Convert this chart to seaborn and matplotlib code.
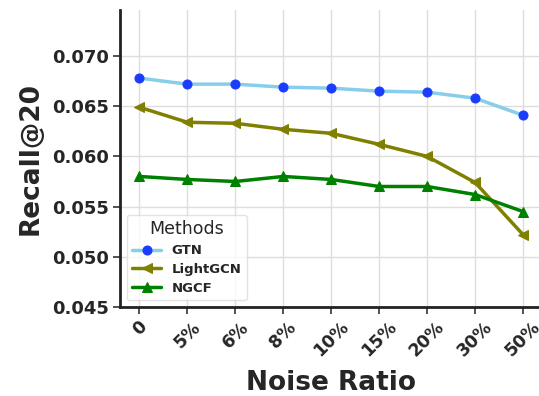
import numpy as np
import pandas as pd
import matplotlib
matplotlib.use("Agg")
import matplotlib.pyplot as plt
import seaborn as sns

noise = ["0", "5%", "6%", "8%", "10%", "15%", "20%", "30%", "50%"]
gtn = [0.0678, 0.0672, 0.0672, 0.0669, 0.0668, 0.0665, 0.0664, 0.0658, 0.0641]
lightgcn = [0.0649, 0.0634, 0.0633, 0.0627, 0.0623, 0.0612, 0.0600, 0.0574, 0.0522]
ngcf = [0.0580, 0.0577, 0.0575, 0.0580, 0.0577, 0.0570, 0.0570, 0.0562, 0.0545]

methods = ["GTN", "LightGCN", "NGCF"]
values = {"GTN": gtn, "LightGCN": lightgcn, "NGCF": ngcf}
styles = {
    "GTN": dict(color="skyblue", marker="o", mfc="#1a3cff", mec="#1a3cff", ms=6.5),
    "LightGCN": dict(color="olive", marker="<", mfc="olive", mec="olive", ms=7),
    "NGCF": dict(color="green", marker="^", mfc="green", mec="green", ms=7),
}

sns.set_theme(style="whitegrid")
plt.rcParams["font.family"] = ["DejaVu Sans"]

fig = plt.figure(figsize=(5.39, 3.96), dpi=100)
ax = fig.add_axes([0.223, 0.225, 0.783, 0.75])

x = np.arange(len(noise))
for m in methods:
    st = styles[m]
    sns.lineplot(x=x, y=values[m], ax=ax, color=st["color"], linewidth=2.5,
                 marker=st["marker"], markersize=st["ms"], markerfacecolor=st["mfc"],
                 markeredgecolor=st["mec"], label=m)

ax.set_xticks(x)
ax.set_xticklabels(noise, rotation=45, fontsize=12.5, fontweight="bold")
ax.set_ylim(0.045, 0.0746)
ax.set_yticks([0.045, 0.050, 0.055, 0.060, 0.065, 0.070])
ax.set_yticklabels([f"{v:.3f}" for v in ax.get_yticks()], fontsize=13, fontweight="bold")
ax.set_xlim(-0.4, 8.4)
ax.set_xlabel("Noise Ratio", fontsize=19, fontweight="bold", labelpad=7)
ax.set_ylabel("Recall@20", fontsize=19, fontweight="bold", labelpad=6)
ax.tick_params(axis="both", length=5, width=1.2, color="#333333", pad=3)
ax.xaxis.set_tick_params(bottom=True)
ax.yaxis.set_tick_params(left=True)
ax.grid(True, color="#dddddd", linewidth=1)

for side in ["top", "right"]:
    ax.spines[side].set_visible(False)
for side in ["left", "bottom"]:
    ax.spines[side].set_color("#222222")
    ax.spines[side].set_linewidth(2)

leg = ax.legend(title="Methods", loc="lower left", title_fontsize=12.5,
                prop={"weight": "bold", "size": 9.5}, frameon=True, borderpad=0.4,
                handlelength=2.2, labelspacing=0.45)
leg.get_frame().set_edgecolor("#dddddd")

fig.savefig("out.png", dpi=100)
